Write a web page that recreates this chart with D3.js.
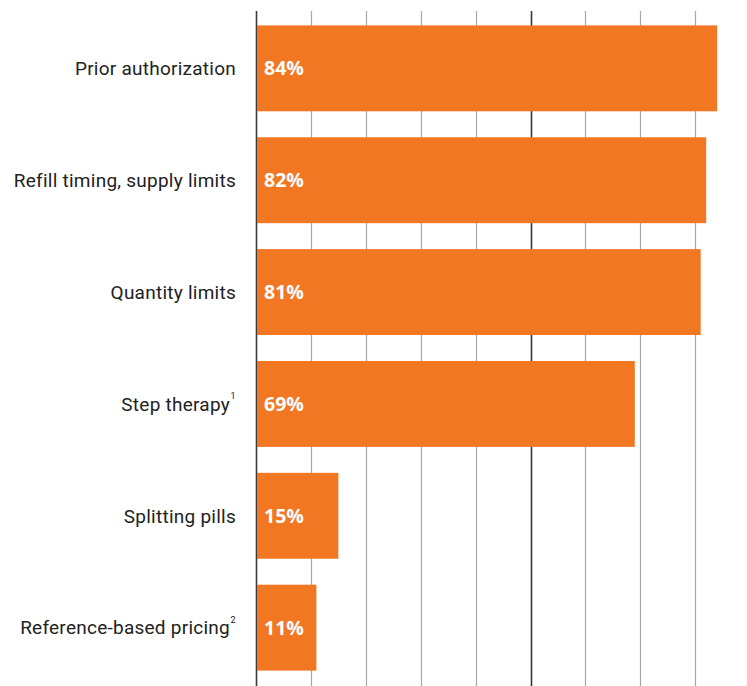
<!DOCTYPE html>
<html>
<head>
<meta charset="utf-8">
<script src="https://cdn.jsdelivr.net/npm/d3@7"></script>
<style>
  body { margin: 0; background: #fff; }
  svg { display: block; }
</style>
</head>
<body>
<svg id="chart" width="747" height="686"></svg>
<script>
// Data
var categories = ["Prior authorization", "Refill timing, supply limits", "Quantity limits", "Step therapy", "Splitting pills", "Reference-based pricing"];
var footnotes = ["", "", "", "1", "", "2"];
var values = [84, 82, 81, 69, 15, 11];
var gridTicks = [0, 10, 20, 30, 40, 50, 60, 70, 80];

var svg = d3.select("#chart");

var x = d3.scaleLinear().domain([0, 100]).range([256, 805]);
var y = d3.scaleBand().domain(categories).range([-1, 697]).paddingInner(0.232).paddingOuter(0.116 + 0.12);

// gridlijnen
svg.append("g")
  .selectAll("line")
  .data(gridTicks)
  .enter().append("line")
    .attr("x1", d => Math.round(x(d)) + 0.5)
    .attr("x2", d => Math.round(x(d)) + 0.5)
    .attr("y1", 11)
    .attr("y2", 686)
    .attr("stroke", d => (d === 0 || d === 50) ? "#3a3a3a" : "#a8a8a8")
    .attr("stroke-width", d => (d === 0 || d === 50) ? 1.6 : 1.2);

// balken
svg.append("g")
  .selectAll("rect")
  .data(values)
  .enter().append("rect")
    .attr("x", x(0) + 1)
    .attr("y", (d, i) => y(categories[i]))
    .attr("width", d => x(d) - x(0) - 1)
    .attr("height", y.bandwidth())
    .attr("fill", "#f27722");

// waardelabels
svg.append("g")
  .selectAll("text")
  .data(values)
  .enter().append("text")
    .attr("x", x(0) + 8)
    .attr("y", (d, i) => y(categories[i]) + y.bandwidth() / 2)
    .attr("dy", "0.36em")
    .attr("fill", "#fff")
    .style("font-family", "'Open Sans', sans-serif")
    .style("font-weight", "bold")
    .style("font-size", "19.5px")
    .text(d => d + "%");

// categorielabels
svg.append("g")
  .selectAll("text")
  .data(categories)
  .enter().append("text")
    .attr("x", (d, i) => footnotes[i] ? 230 : 236)
    .attr("y", d => y(d) + y.bandwidth() / 2)
    .attr("dy", "0.36em")
    .attr("text-anchor", "end")
    .attr("fill", "#222")
    .style("font-family", "'Roboto', sans-serif")
    .style("font-size", "19px")
    .style("letter-spacing", "0.25px")
    .text(d => d);

svg.append("g")
  .selectAll("text")
  .data(categories)
  .enter().filter((d, i) => footnotes[i]).append("text")
    .attr("x", 233)
    .attr("y", d => y(d) + y.bandwidth() / 2 - 5)
    .attr("text-anchor", "middle")
    .attr("fill", "#222")
    .style("font-family", "'Roboto', sans-serif")
    .style("font-size", "9px")
    .text((d) => footnotes[categories.indexOf(d)]);
</script>
</body>
</html>
